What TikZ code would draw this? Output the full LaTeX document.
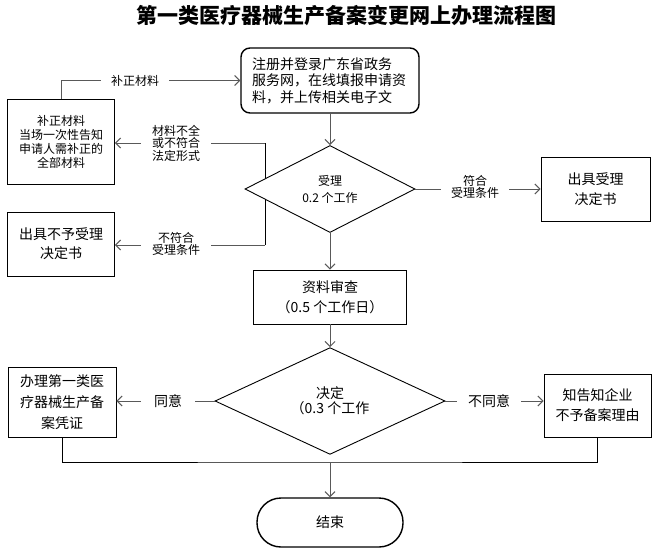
\documentclass[tikz,border=0pt]{standalone}
\usepackage{fontspec}
\setmainfont{Noto Sans CJK SC}
\usetikzlibrary{shapes.geometric,arrows.meta}

\newcommand{\fsz}[2]{\fontsize{#1}{#2}\selectfont}

\begin{document}
\begin{tikzpicture}
    [x=1pt,y=-1pt,
    %%%%%%%%%%%%%%%%%%%%%%%%%%%%%%
        box/.style={rectangle,draw=black,line width=0.9pt,fill=white,inner sep=0pt,align=center,font=\fsz{14}{20}},
        roundbox/.style={box,rounded corners=9pt,line width=1.4pt},
        decide/.style={diamond,draw=black,line width=0.9pt,fill=white,inner sep=0pt,align=center},
        lbl/.style={fill=white,inner ysep=1pt,align=center,font=\fsz{12}{12.5}},
        flow/.style={->,draw=black!65,line width=1pt},
        line/.style={draw=black,line width=0.9pt},
        >={Straight Barb[length=5pt,width=10pt]},
    ]%%%%%%%%%%%%%%%%%%%%%%%%%%%%%%

\useasboundingbox (0,0) rectangle (655,559);

\node (title) at (346,16) {\fsz{21}{24}\bfseries 第一类医疗器械生产备案变更网上办理流程图};

% branch points left of the first decision
\coordinate (lackpt) at (265,143);
\coordinate (nopt) at (265,245);
\coordinate (merge) at (330,462);
\draw[line] (lackpt) -- (nopt);

\node[roundbox,minimum width=178pt,minimum height=65pt,text width=156pt,align=left,font=\fsz{14}{16.5}] (reg) at (330,80.5)
    {注册并登录广东省政务\\服务网，在线填报申请资\\料，并上传相关电子文};
\node[decide,minimum width=170pt,minimum height=87pt,font=\fsz{12}{17}] (accept) at (330,189) {受理\\0.2 个工作};
\node[box,minimum width=107pt,minimum height=85pt,font=\fsz{12}{14}] (supply) at (61,141.5)
    {补正材料\\当场一次性告知\\申请人需补正的\\全部材料};
\node[box,minimum width=107pt,minimum height=64pt,font=\fsz{14}{19}] (refuse) at (61,244) {出具不予受理\\决定书};
\node[box,minimum width=109pt,minimum height=64pt] (accbook) at (595.5,189) {出具受理\\决定书};
\node[box,minimum width=153pt,minimum height=54pt] (review) at (330,297) {资料审查\\（0.5 个工作日）};
\node[decide,minimum width=230pt,minimum height=86pt,font=\fsz{14}{15}] (decision) at (330,401) {决定\\（0.3 个工作};
\node[box,minimum width=108pt,minimum height=70pt,font=\fsz{14}{21}] (agree) at (62,402) {办理第一类医\\疗器械生产备\\案凭证};
\node[box,minimum width=107pt,minimum height=63pt] (deny) at (597.5,405.5) {知告知企业\\不予备案理由};
\node[roundbox,rounded corners=24pt,minimum width=146pt,minimum height=49pt] (finish) at (330,522.5) {结束};

% connectors
\draw[flow] (supply.north) |- (reg.west);
\draw[flow] (reg.south) -- (accept.north);
\draw[flow] (lackpt) -- (lackpt -| supply.east);
\draw[flow] (nopt) -- (nopt -| refuse.east);
\draw[flow] (accept.east) -- (accbook.west);
\draw[flow] (accept.south) -- (review.north);
\draw[flow] (review.south) -- (decision.north);
\draw[flow] (decision.west) -- (decision.west -| agree.east);
\draw[flow] (decision.east) -- (decision.east -| deny.west);
\draw[line] (agree.south) |- (merge) -| (deny.south);
\draw[flow] (merge) -- (finish.north);

% labels on the connectors
\node[lbl,inner xsep=10pt] (fixlbl) at (135,80.5) {补正材料};
\node[lbl,inner xsep=11pt] (lacklbl) at (176,143) {材料不全\\或不符合\\法定形式};
\node[lbl,inner xsep=11pt] (nolbl) at (176,244) {不符合\\受理条件};
\node[lbl,inner xsep=10pt] (oklbl) at (475,187) {符合\\受理条件};
\node[lbl,inner xsep=13pt,font=\fsz{14}{15}] (agreelbl) at (168,401) {同意};
\node[lbl,inner xsep=11pt,font=\fsz{14}{15}] (denylbl) at (489,401) {不同意};
\end{tikzpicture}
\end{document}
